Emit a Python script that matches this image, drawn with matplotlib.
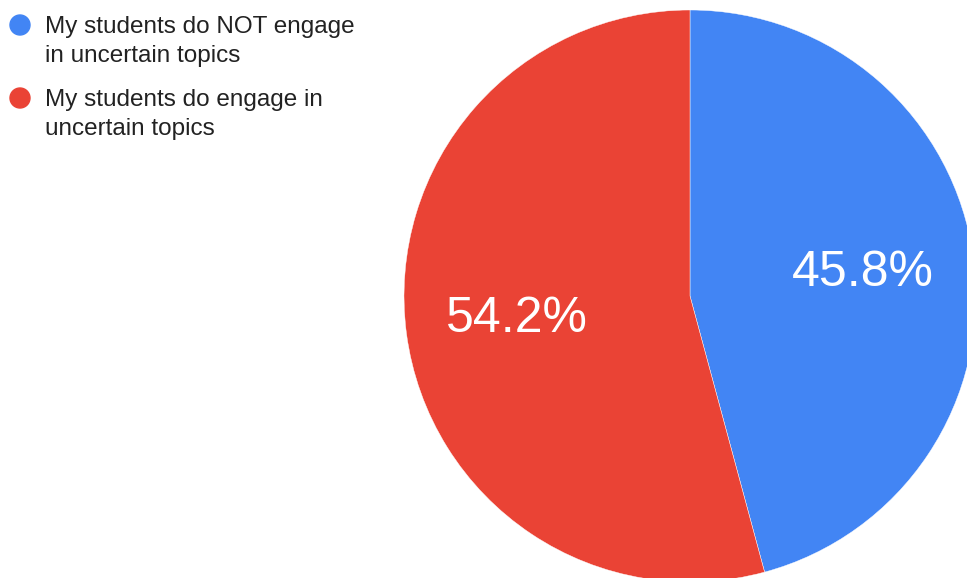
import matplotlib.pyplot as plt
from matplotlib.patches import Circle

# data
labels = [['My students do NOT engage', 'in uncertain topics'],
          ['My students do engage in', 'uncertain topics']]
values = [45.8, 54.2]
colors = ['#4285F4', '#EA4335']

W, H = 967, 578
fig = plt.figure(figsize=(W / 100, H / 100), dpi=100)
ax = fig.add_axes([0, 0, 1, 1])

# pie in pixel coordinates (center 690,296 from top, radius 286)
wedges, texts, autotexts = ax.pie(
    values, colors=colors, startangle=90, counterclock=False,
    center=(690, H - 296), radius=286, frame=True,
    autopct='%1.1f%%', pctdistance=0.61,
    wedgeprops=dict(edgecolor='white', linewidth=0.3),
    textprops=dict(color='white', fontsize=36, family='Liberation Sans'))
ax.set_xlim(0, W)
ax.set_ylim(0, H)
ax.set_aspect('equal')
ax.axis('off')

# manual legend, one text per line so spacing matches
legend_y = [25, 98]
for y, lines, c in zip(legend_y, labels, colors):
    ax.add_patch(Circle((20, H - y), 10, color=c, clip_on=False))
    for i, line in enumerate(lines):
        ax.text(45, H - (y + 8 + 29 * i), line, ha='left', va='baseline',
                fontsize=17.5, family='Liberation Sans', color='#222222')

fig.savefig('out.png', dpi=100)
